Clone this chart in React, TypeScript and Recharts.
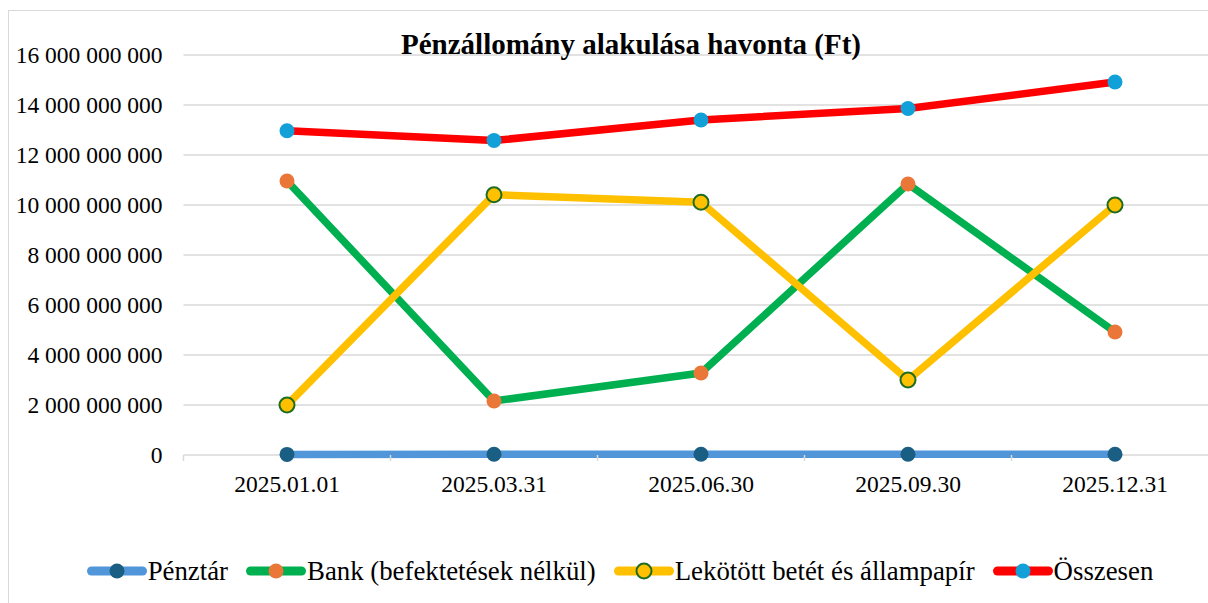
import { CartesianGrid, Legend, Line, LineChart, XAxis, YAxis } from "recharts";

const dates = ["2025.01.01", "2025.03.31", "2025.06.30", "2025.09.30", "2025.12.31"];
const penztar = [25000000, 30000000, 28000000, 32000000, 30000000];
const bank = [10960000000, 2160000000, 3280000000, 10840000000, 4920000000];
const lekotott = [2000000000, 10410000000, 10110000000, 3000000000, 10000000000];
const osszesen = [12970000000, 12580000000, 13400000000, 13860000000, 14920000000];
const yTicks = [0, 2e9, 4e9, 6e9, 8e9, 1e10, 1.2e10, 1.4e10, 1.6e10];

const series = [
  { key: "penztar", name: "Pénztár", color: "#5196d9", dot: "#1b5e84", dotStroke: "none" },
  { key: "bank", name: "Bank (befektetések nélkül)", color: "#00b050", dot: "#ea7638", dotStroke: "none" },
  { key: "lekotott", name: "Lekötött betét és állampapír", color: "#ffc000", dot: "#ffc000", dotStroke: "#1f6b21" },
  { key: "osszesen", name: "Összesen", color: "#ff0000", dot: "#12a0d8", dotStroke: "none" },
];

const data = dates.map((d, i) => ({
  date: d,
  penztar: penztar[i],
  bank: bank[i],
  lekotott: lekotott[i],
  osszesen: osszesen[i],
}));

const FONT = '"Liberation Serif", monospace';
const W = 1230;
const H = 600;
const Y_AXIS_W = 174.5;
const MARGIN = { top: 44, right: 20.5, bottom: 24, left: 0 };
const STEP = (W - Y_AXIS_W - MARGIN.right) / dates.length;

const fmt = (v: number) => String(Math.round(v)).replace(/\B(?=(\d{3})+(?!\d))/g, " ");

function YTick(props: any) {
  const { x, y, payload } = props;
  return (
    <text x={x} y={y} dy="0.355em" textAnchor="end" fill="#000" style={{ fontFamily: FONT, fontSize: 23.5 }}>
      {fmt(payload.value)}
    </text>
  );
}

function XTick(props: any) {
  const { x, y, payload, index } = props;
  const last = index === dates.length - 1;
  return (
    <g>
      <line x1={x - STEP / 2} x2={x - STEP / 2} y1={y} y2={y + 6} stroke="#d9d9d9" strokeWidth={1.5} />
      {last && <line x1={x + STEP / 2} x2={x + STEP / 2} y1={y} y2={y + 6} stroke="#d9d9d9" strokeWidth={1.5} />}
      <text x={x} y={y + 37} textAnchor="middle" fill="#000" style={{ fontFamily: FONT, fontSize: 23.5 }}>
        {payload.value}
      </text>
    </g>
  );
}

function LegendContent() {
  return (
    <div
      style={{
        height: 32,
        display: "flex",
        justifyContent: "center",
        alignItems: "center",
        paddingLeft: 12.5,
        fontFamily: FONT,
        fontSize: 26.8,
        color: "#000",
        whiteSpace: "nowrap",
      }}
    >
      {series.map((s, i) => (
        <div
          key={s.key}
          style={{ display: "flex", alignItems: "center", marginRight: i === series.length - 1 ? 0 : 18 }}
        >
          <svg width={60} height={20} style={{ marginRight: 1 }}>
            <line x1={4.5} x2={55.5} y1={10} y2={10} stroke={s.color} strokeWidth={9} strokeLinecap="round" />
            <circle cx={30} cy={10} r={7.5} fill={s.dot} stroke={s.dotStroke} strokeWidth={2} />
          </svg>
          <span>{s.name}</span>
        </div>
      ))}
    </div>
  );
}

export default function App() {
  return (
    <div style={{ position: "fixed", left: 0, top: 0, width: 1208, height: 603, overflow: "hidden", background: "#fff" }}>
      <div
        style={{
          position: "absolute",
          left: 8,
          top: 10,
          width: W,
          height: H + 20,
          border: "1px solid #d9d9d9",
          background: "#fff",
        }}
      >
        <div
          style={{
            position: "absolute",
            left: 0,
            top: 19,
            width: 1244,
            textAlign: "center",
            fontFamily: FONT,
            fontWeight: "bold",
            fontSize: 29,
            lineHeight: "29px",
            color: "#000",
            zIndex: 1,
          }}
        >
          Pénzállomány alakulása havonta (Ft)
        </div>
        <LineChart width={W} height={H} data={data} margin={MARGIN}>
          <CartesianGrid vertical={false} stroke="#d9d9d9" strokeWidth={1.5} />
          <XAxis
            dataKey="date"
            padding={{ left: STEP / 2, right: STEP / 2 }}
            axisLine={false}
            tickLine={false}
            tickSize={0}
            tickMargin={0}
            height={100}
            tick={<XTick />}
            interval={0}
          />
          <YAxis
            width={Y_AXIS_W}
            domain={[0, 1.6e10]}
            ticks={yTicks}
            axisLine={false}
            tickLine={false}
            tickSize={0}
            tickMargin={21}
            tick={<YTick />}
          />
          <Legend verticalAlign="bottom" content={<LegendContent />} />
          {series.map((s) => (
            <Line
              key={s.key}
              dataKey={s.key}
              name={s.name}
              type="linear"
              stroke={s.color}
              strokeWidth={7.5}
              strokeLinejoin="round"
              dot={{ r: 7.5, fill: s.dot, stroke: s.dotStroke, strokeWidth: 2, fillOpacity: 1 }}
              activeDot={false}
              isAnimationActive={false}
            />
          ))}
        </LineChart>
      </div>
    </div>
  );
}
